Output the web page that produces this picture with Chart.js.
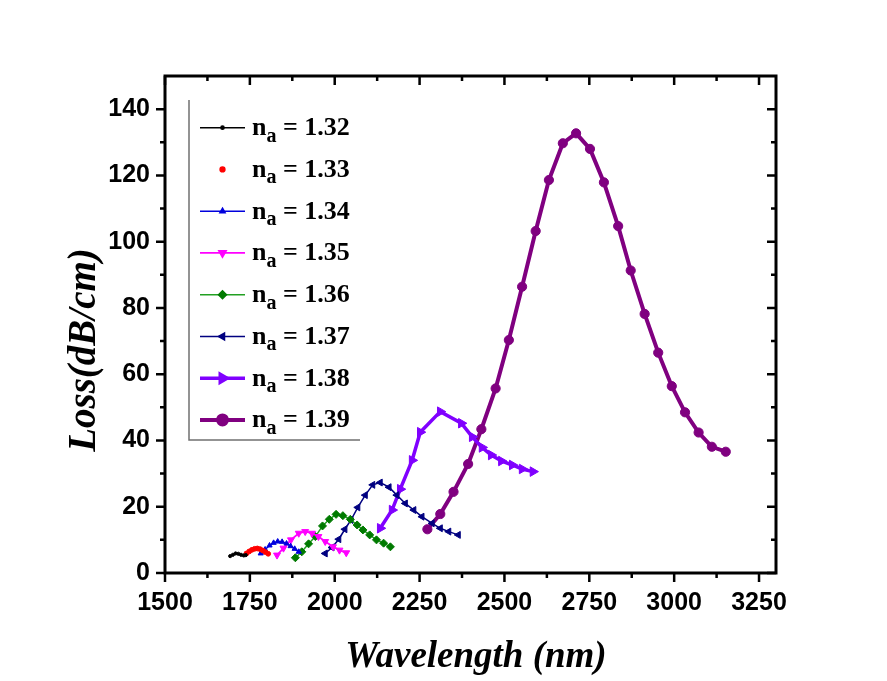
<!DOCTYPE html>
<html>
<head>
<meta charset="utf-8">
<script src="https://cdn.jsdelivr.net/npm/chart.js@4.4.1/dist/chart.umd.min.js"></script>
<style>
  html, body { margin: 0; padding: 0; background: #fff; }
  canvas { display: block; }
</style>
</head>
<body>
<canvas id="lossChart" width="887" height="681"></canvas>
<script>
// axis tick labels
const xTicks = [1500, 1750, 2000, 2250, 2500, 2750, 3000, 3250];
const yTicks = [0, 20, 40, 60, 80, 100, 120, 140];

// legend labels (n_a values)
const naLabels = ["1.32", "1.33", "1.34", "1.35", "1.36", "1.37", "1.38", "1.39"];

// n_a = 1.32
const wl132 = [1692, 1700, 1708, 1716, 1724, 1732, 1738];
const loss132 = [5.1, 5.5, 5.9, 5.8, 5.5, 5.3, 5.4];
// n_a = 1.33
const wl133 = [1740, 1748, 1756, 1764, 1772, 1780, 1788, 1796, 1804];
const loss133 = [5.9, 6.5, 7.0, 7.3, 7.4, 7.2, 6.8, 6.3, 5.8];
// n_a = 1.34
const wl134 = [1782, 1795, 1808, 1820, 1832, 1845, 1858, 1870, 1882, 1894];
const loss134 = [5.9, 7.1, 8.3, 9.1, 9.5, 9.4, 8.9, 8.1, 7.3, 6.4];
// n_a = 1.35
const wl135 = [1830, 1849, 1871, 1894, 1913, 1933, 1952, 1972, 1995, 2014, 2034];
const loss135 = [5.4, 7.5, 10.0, 12.0, 12.5, 12.0, 11.0, 9.5, 7.9, 6.9, 6.1];
// n_a = 1.36
const wl136 = [1884, 1903, 1923, 1943, 1964, 1984, 2004, 2024, 2046, 2066, 2083, 2103, 2123, 2144, 2164];
const loss136 = [4.6, 6.4, 8.8, 11.0, 14.2, 16.2, 17.7, 17.3, 16.2, 14.5, 13.0, 11.5, 10.0, 9.0, 7.9];
// n_a = 1.37
const wl137 = [1972, 1992, 2012, 2030, 2048, 2068, 2090, 2112, 2134, 2160, 2183, 2208, 2233, 2257, 2287, 2311, 2336, 2364];
const loss137 = [5.9, 7.7, 10.2, 13.2, 16.0, 19.8, 23.5, 26.6, 27.3, 25.9, 23.5, 21.0, 19.0, 17.0, 15.0, 13.5, 12.5, 11.5];
// n_a = 1.38
const wl138 = [2134, 2169, 2193, 2228, 2252, 2311, 2373, 2405, 2434, 2461, 2491, 2523, 2552, 2584];
const loss138 = [13.5, 19.0, 25.3, 34.0, 42.5, 48.7, 45.2, 41.1, 37.9, 35.6, 33.8, 32.6, 31.4, 30.6];
// n_a = 1.39
const wl139 = [2273, 2311, 2350, 2393, 2432, 2474, 2513, 2552, 2592, 2631, 2672, 2711, 2752, 2793, 2835, 2872, 2913, 2953, 2993, 3032, 3072, 3111, 3152];
const loss139 = [13.2, 17.8, 24.5, 32.9, 43.4, 55.7, 70.3, 86.4, 103.2, 118.6, 129.7, 132.7, 128.0, 117.9, 104.7, 91.3, 78.2, 66.5, 56.4, 48.5, 42.4, 38.1, 36.6];

const toPoints = (xs, ys) => xs.map((v, i) => ({ x: v, y: ys[i] }));

// style of each curve
const styles = [
  { color: "#000000", point: "#000000", width: 1.5, style: "circle", radius: 1.6, rot: 0 },
  { color: "#ff0000", point: "#ff0000", width: 1.5, style: "circle", radius: 2.4, rot: 0 },
  { color: "#0000dd", point: "#0000dd", width: 1.5, style: "triangle", radius: 3, rot: 0 },
  { color: "#ff00ff", point: "#ff00ff", width: 1.8, style: "triangle", radius: 4, rot: 180 },
  { color: "#22a022", point: "#007a00", width: 1.5, style: "rectRot", radius: 4, rot: 0 },
  { color: "#000080", point: "#000080", width: 1.5, style: "triangle", radius: 4, rot: 270 },
  { color: "#8000ff", point: "#8000ff", width: 3.5, style: "triangle", radius: 5.5, rot: 90 },
  { color: "#800080", point: "#800080", width: 4, style: "circle", radius: 4.6, rot: 0 },
];

const allSeries = [
  toPoints(wl132, loss132),
  toPoints(wl133, loss133),
  toPoints(wl134, loss134),
  toPoints(wl135, loss135),
  toPoints(wl136, loss136),
  toPoints(wl137, loss137),
  toPoints(wl138, loss138),
  toPoints(wl139, loss139),
];

const datasets = allSeries.map((pts, i) => ({
  label: "n_a = " + naLabels[i],
  data: pts,
  borderColor: styles[i].color,
  backgroundColor: styles[i].point,
  borderWidth: styles[i].width,
  pointStyle: styles[i].style,
  pointRadius: styles[i].radius,
  pointRotation: styles[i].rot,
  pointBackgroundColor: styles[i].point,
  pointBorderColor: styles[i].point,
  pointBorderWidth: 1,
  tension: 0,
  fill: false,
}));

// frame and tick marks (Origin style)
const framePlugin = {
  id: "frame",
  afterDatasetsDraw(chart) {
    const { ctx, chartArea: a, scales } = chart;
    const xs = scales.x, ys = scales.y;
    ctx.save();
    ctx.strokeStyle = "#000";
    ctx.lineWidth = 2.5;
    ctx.beginPath();
    xTicks.forEach((v) => {
      [v, v + 125].forEach((t, k) => {
        if (t >= xs.max) return;
        const len = k === 0 ? 9 : 5;
        const px = xs.getPixelForValue(t);
        ctx.moveTo(px, a.bottom); ctx.lineTo(px, a.bottom + len);
        ctx.moveTo(px, a.top); ctx.lineTo(px, a.top + len);
      });
    });
    yTicks.forEach((v) => {
      [v, v + 10].forEach((t, k) => {
        if (t >= ys.max) return;
        const len = k === 0 ? 9 : 5;
        const py = ys.getPixelForValue(t);
        ctx.moveTo(a.left, py); ctx.lineTo(a.left - len, py);
        ctx.moveTo(a.right, py); ctx.lineTo(a.right - len, py);
      });
    });
    ctx.stroke();
    ctx.lineWidth = 3;
    ctx.strokeRect(a.left, a.top, a.right - a.left, a.bottom - a.top);
    ctx.restore();
  },
};

// legend with subscript and axis titles
const legendPlugin = {
  id: "originLegend",
  afterDraw(chart) {
    const ctx = chart.ctx;
    ctx.save();
    // legend frame (left and bottom sides)
    ctx.strokeStyle = "#707070";
    ctx.lineWidth = 1.5;
    ctx.beginPath();
    ctx.moveTo(189, 100);
    ctx.lineTo(189, 440);
    ctx.lineTo(360, 440);
    ctx.stroke();

    naLabels.forEach((lab, i) => {
      const s = styles[i];
      const y = 127.7 + i * 41.75;
      if (i !== 1) {
        ctx.strokeStyle = s.color;
        ctx.lineWidth = s.width;
        ctx.beginPath();
        ctx.moveTo(200, y);
        ctx.lineTo(245, y);
        ctx.stroke();
      }
      ctx.fillStyle = s.point;
      ctx.strokeStyle = s.point;
      Chart.helpers.drawPoint(ctx, {
        pointStyle: s.style, radius: Math.min(s.radius, 4.5), rotation: s.rot, borderWidth: 1,
      }, 222.5, y);

      ctx.fillStyle = "#000";
      ctx.textAlign = "left";
      ctx.textBaseline = "alphabetic";
      ctx.font = "bold 26px 'Liberation Serif'";
      let x = 252;
      ctx.fillText("n", x, y + 7.5);
      x += ctx.measureText("n").width;
      ctx.font = "bold 20px 'Liberation Serif'";
      ctx.fillText("a", x, y + 14);
      x += ctx.measureText("a").width;
      ctx.font = "bold 26px 'Liberation Serif'";
      ctx.fillText(" = " + lab, x, y + 7.5);
    });

    // axis titles
    ctx.fillStyle = "#000";
    ctx.font = "italic bold 37px 'Liberation Serif'";
    ctx.textAlign = "center";
    ctx.textBaseline = "alphabetic";
    ctx.fillText("Wavelength (nm)", 476, 667);
    ctx.translate(95, 350);
    ctx.rotate(-Math.PI / 2);
    ctx.font = "italic bold 39px 'Liberation Serif'";
    ctx.fillText("Loss(dB/cm)", 0, 0);
    ctx.restore();
  },
};

const tickFont = { family: "'Liberation Sans', Arial", weight: "bold", size: 25 };

const config = {
  type: "line",
  data: { datasets: datasets },
  options: {
    responsive: false,
    animation: false,
    layout: { padding: { left: 0, top: 76, right: 111, bottom: 0 } },
    plugins: {
      legend: { display: false },
      tooltip: { enabled: false },
    },
    scales: {
      x: {
        type: "linear",
        min: 1500,
        max: 3300,
        grid: { display: false, drawTicks: false },
        border: { display: false },
        ticks: {
          font: tickFont, color: "#000", padding: 15, maxRotation: 0,
          callback: (v) => String(v),
        },
        afterBuildTicks: (scale) => { scale.ticks = xTicks.map((v) => ({ value: v })); },
        afterFit: (scale) => { scale.height = 108; },
      },
      y: {
        type: "linear",
        min: 0,
        max: 150,
        grid: { display: false, drawTicks: false },
        border: { display: false },
        ticks: { font: tickFont, color: "#000", padding: 15, callback: (v) => String(v) },
        afterBuildTicks: (scale) => { scale.ticks = yTicks.map((v) => ({ value: v })); },
        afterFit: (scale) => { scale.width = 165; },
      },
    },
  },
  plugins: [framePlugin, legendPlugin],
};

const lossChart = new Chart(document.getElementById("lossChart"), config);
</script>
</body>
</html>
